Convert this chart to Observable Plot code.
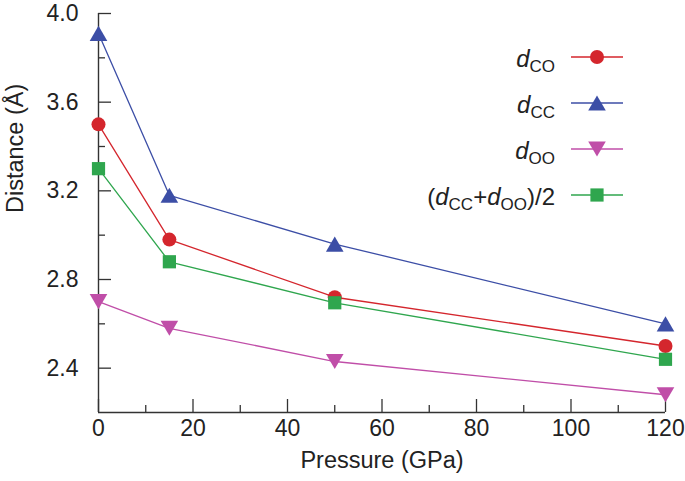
<!DOCTYPE html>
<html><head><meta charset="utf-8">
<script src="https://cdn.jsdelivr.net/npm/d3@7"></script>
<script src="https://cdn.jsdelivr.net/npm/@observablehq/plot@0.6"></script>
<style>body{margin:0;background:#fff;}</style>
</head><body><div id="chart"></div>
<script>
// ---- data ----
const pressure = [0, 15, 50, 120];
const dCO  = [3.50, 2.98, 2.72, 2.50];
const dCC  = [3.91, 3.18, 2.96, 2.60];
const dOO  = [2.70, 2.58, 2.43, 2.28];
const dAvg = [3.30, 2.88, 2.695, 2.44];
const seriesKeys = ["dCO", "dCC", "dOO", "avg"];
const seriesValues = [dCO, dCC, dOO, dAvg];
const seriesColors = ["#d4262d", "#3c4ea6", "#c04ea8", "#2fa64e"];
const xTicksMajor = [0, 20, 40, 60, 80, 100, 120];
const xTicksMinor = [10, 30, 50, 70, 90, 110];
const yTicksMajor = [2.4, 2.8, 3.2, 3.6, 4.0];
const yTicksMinor = [2.6, 3.0, 3.4, 3.8];
const xLabel = "Pressure (GPa)";
const yLabel = "Distance (Å)";

// ---- symbols (size-relative) ----
const K = 7; // reference radius
const symCircle = {draw(c, size){ const r = Math.sqrt(size/Math.PI); c.moveTo(r,0); c.arc(0,0,r,0,2*Math.PI); }};
const symUp = {draw(c, size){ const s = Math.sqrt(size/Math.PI)/K; const w=8.8*s, h=7.6*s; c.moveTo(0,-h); c.lineTo(w,h); c.lineTo(-w,h); c.closePath(); }};
const symDown = {draw(c, size){ const s = Math.sqrt(size/Math.PI)/K; const w=8.8*s, h=7.6*s; c.moveTo(0,h); c.lineTo(w,-h); c.lineTo(-w,-h); c.closePath(); }};
const symSquare = {draw(c, size){ const s = Math.sqrt(size/Math.PI)/K; const a=6.6*s; c.rect(-a,-a,2*a,2*a); }};
const seriesSymbols = [symCircle, symUp, symDown, symSquare];

const rows = [];
seriesKeys.forEach((k, si) => pressure.forEach((p, i) => rows.push({series: k, si, p, v: seriesValues[si][i]})));

const W = 685, H = 481, mL = 98, mR = 20, mT = 13, mB = 69;
const plotW = W - mL - mR, plotH = H - mT - mB;
const axisColor = "#333";
const font = "'Liberation Sans', Arial, Helvetica, sans-serif";
const tickFont = 23, titleFont = 23.5;

const marks = [
  Plot.ruleX([0], {stroke: axisColor, strokeWidth: 1.4}),
  Plot.ruleY([2.2], {stroke: axisColor, strokeWidth: 1.4}),
  Plot.tickY(yTicksMajor, {y: d => d, insetRight: plotW - 13, stroke: axisColor, strokeWidth: 1.3}),
  Plot.tickY(yTicksMinor, {y: d => d, insetRight: plotW - 7, stroke: axisColor, strokeWidth: 1.3}),
  Plot.tickX(xTicksMajor, {x: d => d, insetTop: plotH - 13, stroke: axisColor, strokeWidth: 1.3}),
  Plot.tickX(xTicksMinor, {x: d => d, insetTop: plotH - 7, stroke: axisColor, strokeWidth: 1.3}),
  Plot.text(yTicksMajor, {y: d => d, frameAnchor: "left", dx: -20, textAnchor: "end", text: d => d.toFixed(1), fontSize: tickFont, fill: "#222"}),
  Plot.text(xTicksMajor, {x: d => d, frameAnchor: "bottom", dy: 23, text: d => String(d), fontSize: tickFont, fill: "#222"}),
  Plot.text([yLabel], {frameAnchor: "left", dx: -83, rotate: -90, text: d => d, fontSize: titleFont, fill: "#222"}),
  Plot.text([xLabel], {frameAnchor: "bottom", dy: 55, text: d => d, fontSize: titleFont, fill: "#222"})
];
seriesKeys.forEach((k, si) => {
  const d = rows.filter(r => r.series === k);
  marks.push(Plot.line(d, {x: "p", y: "v", stroke: seriesColors[si], strokeWidth: 1.3}));
});
seriesKeys.forEach((k, si) => {
  const d = rows.filter(r => r.series === k);
  marks.push(Plot.dot(d, {x: "p", y: "v", fill: seriesColors[si], r: K, symbol: seriesSymbols[si]}));
});

const chart = Plot.plot({
  width: W, height: H,
  marginLeft: mL, marginRight: mR, marginTop: mT, marginBottom: mB,
  style: {fontFamily: font, background: "#fff", overflow: "visible"},
  x: {domain: [0, 120], axis: null},
  y: {domain: [2.2, 4.0], axis: null},
  marks
});
document.getElementById("chart").appendChild(chart);

// ---- legend (inside the plot, upper right) ----
const svg = d3.select(chart);
const legendRows = [57, 103, 149, 195];
const labelEnd = 555, lineX1 = 571, lineX2 = 623, markX = 597;
const lg = svg.append("g").attr("font-family", font).attr("fill", "#222");
const parts = [
  [["d","i"],["CO","s"]],
  [["d","i"],["CC","s"]],
  [["d","i"],["OO","s"]],
  [["(","n"],["d","i"],["CC","s"],["+","n"],["d","i"],["OO","s"],[")/2","n"]]
];
parts.forEach((p, i) => {
  const y = legendRows[i];
  const t = lg.append("text").attr("x", labelEnd).attr("y", y + 10).attr("text-anchor", "end").attr("font-size", 24);
  let shifted = false;
  p.forEach(([s, kind]) => {
    const ts = t.append("tspan").text(s);
    if (kind === "s") { ts.attr("font-size", 17).attr("dy", 5); shifted = true; }
    else { if (shifted) { ts.attr("dy", -5); shifted = false; } if (kind === "i") ts.attr("font-style", "italic"); }
  });
  lg.append("line").attr("x1", lineX1).attr("x2", lineX2).attr("y1", y).attr("y2", y)
    .attr("stroke", seriesColors[i]).attr("stroke-width", 1.3);
  lg.append("path").attr("d", d3.symbol(seriesSymbols[i], Math.PI * K * K)())
    .attr("transform", `translate(${markX},${y})`).attr("fill", seriesColors[i]);
});
</script>
</body></html>
